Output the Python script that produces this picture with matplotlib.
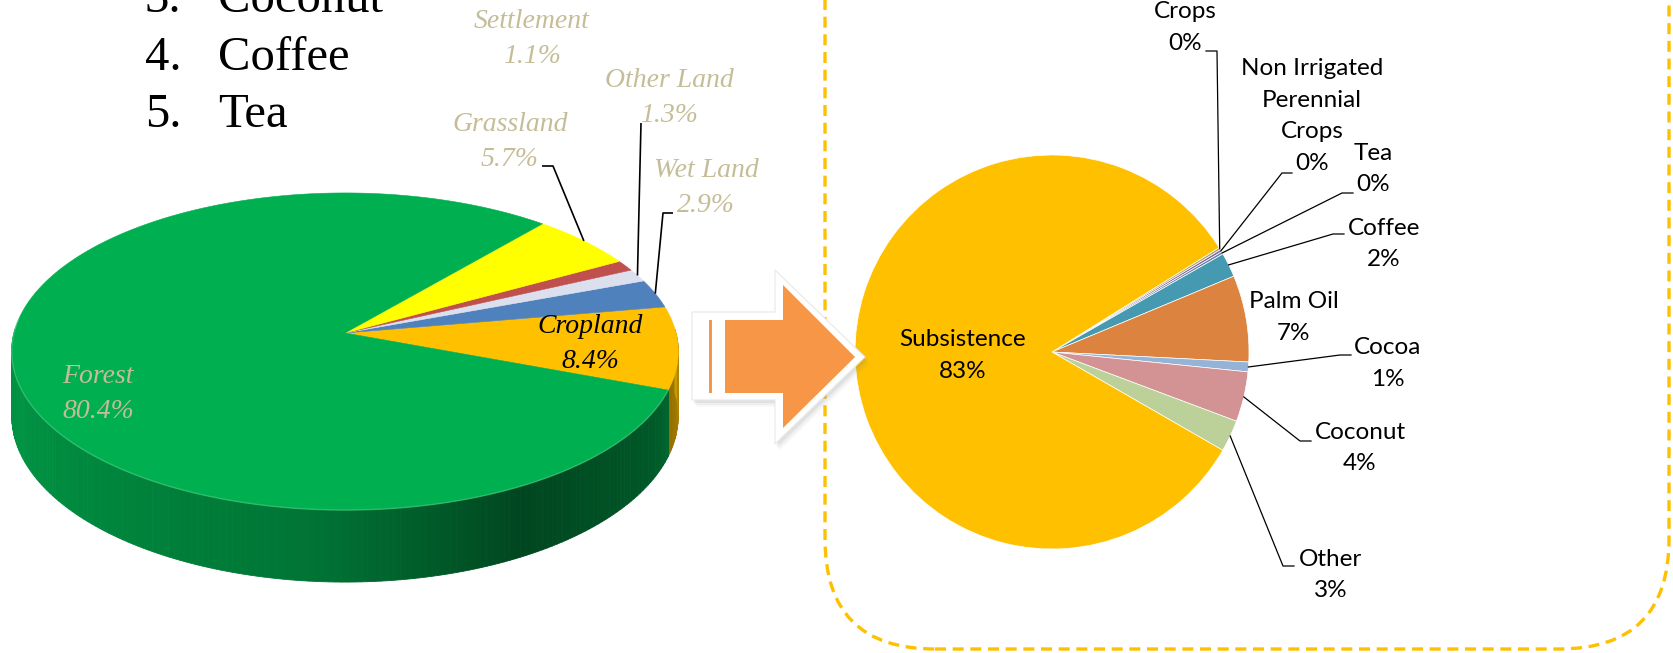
import numpy as np
import matplotlib
matplotlib.use("Agg")
import matplotlib.pyplot as plt
from matplotlib.patches import Polygon, FancyBboxPatch
from matplotlib.colors import to_rgb

# land use shares, left 3d pie (counter-clockwise from the cropland edge)
land_names = ['Cropland', 'Wet Land', 'Other Land', 'Settlement', 'Grassland', 'Forest']
land_share = [8.4, 2.9, 1.3, 1.1, 5.7, 80.4]
land_colors = ['#FFC000', '#4F81BD', '#DCE0EE', '#C0504D', '#FFFF00', '#00B050']

# cropland breakdown, right pie (clockwise from the top)
crop_names = ['Crops', 'Non Irrigated\nPerennial\nCrops', 'Tea', 'Coffee', 'Palm Oil',
              'Cocoa', 'Coconut', 'Other', 'Subsistence']
crop_share = [0.2, 0.2, 0.2, 2.0, 7.1, 0.8, 4.1, 2.6, 82.8]
crop_colors = ['#A3A86E', '#8064A2', '#6F7F9F', '#4599B0', '#DC843F',
               '#95B3D7', '#D39293', '#BCD09A', '#FFC000']

list_nums = ['3.', '4.', '5.']
list_items = ['Coconut', 'Coffee', 'Tea']

W, H = 1674, 653


def Y(y):
    # layout measured from the top of the picture
    return H - y


fig = plt.figure(figsize=(W / 100, H / 100), dpi=100)
ax = fig.add_axes([0, 0, 1, 1])

# ---------------- left: 3d pie ----------------
cx, cy, A, B, k, T = 345, 333, 331, 156.4, 0.1167, 63.6


def proj(deg, depth=0.0):
    t = np.radians(deg)
    s = 1.0 / (1.0 + k * np.sin(t))
    x = cx + A * np.cos(t) * s
    y = cy - B * np.sin(t) * s + depth * s
    return x, Y(y)


def shade(deg):
    d = deg % 360
    return np.interp(d, [180, 200, 265, 298, 330, 360], [0.80, 0.84, 0.66, 0.40, 0.50, 0.72])


total = sum(land_share)
bounds = -20.5 + 360 * np.concatenate([[0], np.cumsum(land_share)]) / total

# side wall
for i, col in enumerate(land_colors):
    a1, a2 = bounds[i], bounds[i + 1]
    steps = np.arange(a1, a2, 1.0).tolist() + [a2]
    base = np.array(to_rgb(col))
    for t1, t2 in zip(steps[:-1], steps[1:]):
        mid = (t1 + t2) / 2
        if np.sin(np.radians(mid)) > 0.02:
            continue
        x1, y1 = proj(t1)
        x2, y2 = proj(t2)
        x3, y3 = proj(t2, T)
        x4, y4 = proj(t1, T)
        c = np.clip(base * shade(mid), 0, 1)
        ax.add_patch(Polygon([(x1, y1), (x2, y2), (x3, y3), (x4, y4)], closed=True,
                             facecolor=c, edgecolor=c, linewidth=0.6, zorder=2))

# top face
for i, col in enumerate(land_colors):
    th = np.linspace(bounds[i], bounds[i + 1], 200)
    xs, ys = proj(th)
    pts = [(cx, Y(cy))] + list(zip(xs, ys))
    ax.add_patch(Polygon(pts, closed=True, facecolor=col, edgecolor=col,
                         linewidth=0.4, zorder=3))

# soft highlight on the front rim
rim = np.linspace(175, bounds[0] + 360, 300)
rx, ry = proj(rim)
ax.plot(rx, ry, color='#5BD08A', lw=1.0, alpha=0.5, zorder=4)

tan = '#C4BD97'
serif_it = dict(family='Liberation Serif', style='italic', fontsize=20,
                ha='center', va='center', linespacing=1.5, zorder=6)
land_label_pos = {
    'Settlement': (532, 39),
    'Other Land': (669, 98),
    'Grassland': (510, 142),
    'Wet Land': (706, 188),
    'Cropland': (590, 344),
    'Forest': (98, 394),
}
land_leaders = {
    'Grassland': (542, 553, 166),
    'Other Land': (641, 641, 123),
    'Wet Land': (673, 663, 213),
}
for i, name in enumerate(land_names):
    x, y = land_label_pos[name]
    color = 'black' if name == 'Cropland' else tan
    ax.text(x, Y(y), f'{name}\n{land_share[i]}%', color=color, **serif_it)
    if name in land_leaders:
        xs0, xe, yl = land_leaders[name]
        px, py = proj((bounds[i] + bounds[i + 1]) / 2)
        ax.plot([xs0, xe, px], [Y(yl), Y(yl), py], color='black', lw=1.2, zorder=5,
                solid_capstyle='butt')

# list at top left
for j, (num, item) in enumerate(zip(list_nums, list_items)):
    yb = Y(12 + 57.5 * j)
    ax.text(145, yb, num, family='Liberation Serif', fontsize=35, va='baseline', ha='left')
    ax.text(218, yb, item, family='Liberation Serif', fontsize=35, va='baseline', ha='left')

# ---------------- dashed frame ----------------
ax.add_patch(FancyBboxPatch((825, Y(649)), 1669 - 825, 900,
                            boxstyle='round,pad=0,rounding_size=110', fill=False,
                            edgecolor='#FFC000', linewidth=2.4,
                            linestyle=(0, (3.3, 2.0)), zorder=1))

# ---------------- right: pie ----------------
pc, pr = (1052, Y(352)), 197
wedges, _ = ax.pie(crop_share, colors=crop_colors, startangle=32, counterclock=False,
                   center=pc, radius=pr,
                   wedgeprops=dict(edgecolor='white', linewidth=0.5))
for w in wedges:
    w.set_zorder(2)

crop_total = sum(crop_share)
crop_label_pos = {
    'Crops': (1185, 27.5),
    'Non Irrigated\nPerennial\nCrops': (1312, 116),
    'Tea': (1373, 169),
    'Coffee': (1384, 244),
    'Palm Oil': (1294, 317.5),
    'Cocoa': (1388, 363.5),
    'Coconut': (1360, 448),
    'Other': (1331, 575),
    'Subsistence': (963, 355.5),
}
crop_leaders = {
    'Crops': (1206, 1217, 51),
    'Non Irrigated\nPerennial\nCrops': (1292, 1282, 173),
    'Tea': (1353, 1342, 193),
    'Coffee': (1344, 1333, 234),
    'Cocoa': (1351, 1340, 355),
    'Coconut': (1311, 1300, 441),
    'Other': (1294, 1283, 566),
}
for name, share, w in zip(crop_names, crop_share, wedges):
    x, y = crop_label_pos[name]
    ax.text(x, Y(y), f'{name}\n{share / crop_total * 100:.0f}%', family='Lato',
            fontsize=17.5, ha='center', va='center', linespacing=1.62, zorder=6)
    if name in crop_leaders:
        xs0, xe, yl = crop_leaders[name]
        mid = np.radians((w.theta1 + w.theta2) / 2)
        px, py = pc[0] + pr * np.cos(mid), pc[1] + pr * np.sin(mid)
        ax.plot([xs0, xe, px], [Y(yl), Y(yl), py], color='black', lw=0.9, zorder=5)

# ---------------- arrow ----------------
outer = [(692, 312), (775, 312), (775, 270), (865, 357), (775, 444), (775, 400), (692, 400)]
for off, a in [(7, 0.05), (5, 0.08), (3, 0.12)]:
    ax.add_patch(Polygon([(x + off * 0.6, Y(y + off)) for x, y in outer], closed=True,
                         facecolor='#808080', edgecolor='none', alpha=a, zorder=7))
ax.add_patch(Polygon([(x, Y(y)) for x, y in outer], closed=True,
                     facecolor='white', edgecolor='#E8E8E8', linewidth=0.8, zorder=8))
arrow = [(725, 320), (783, 320), (783, 285), (855, 357), (783, 428), (783, 393), (725, 393)]
ax.add_patch(Polygon([(x, Y(y)) for x, y in arrow], closed=True,
                     facecolor='#F79646', edgecolor='none', zorder=9))
ax.add_patch(Polygon([(709, Y(320)), (712, Y(320)), (712, Y(393)), (709, Y(393))],
                     closed=True, facecolor='#F79646', edgecolor='none', zorder=9))

ax.set_aspect('auto')
ax.set_xlim(0, W)
ax.set_ylim(0, H)
ax.axis('off')
fig.savefig('out.png', dpi=100)
